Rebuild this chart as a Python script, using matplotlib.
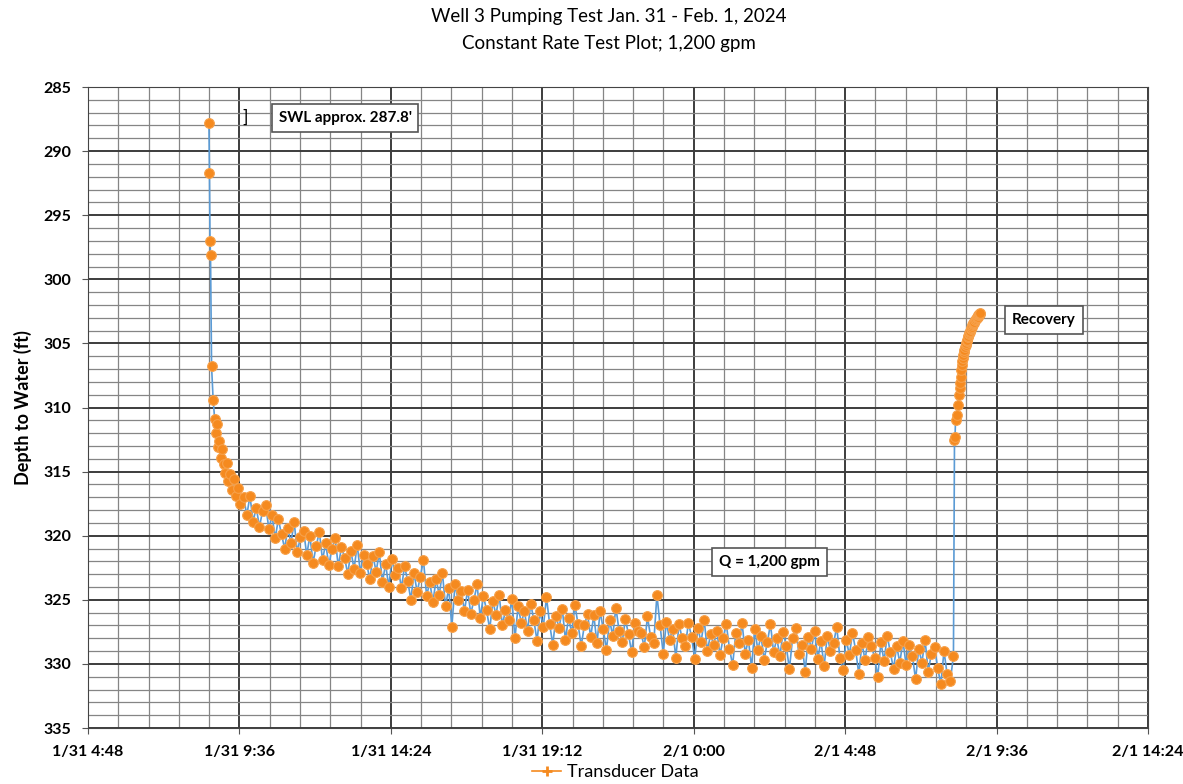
import numpy as np
import matplotlib.pyplot as plt
import matplotlib.dates as mdates
from matplotlib.ticker import MultipleLocator, FuncFormatter
from matplotlib.lines import Line2D
from datetime import datetime, timedelta

plt.rcParams['font.family'] = ['Lato', 'DejaVu Sans']

# pump start on 1/31, early readings (minutes after start)
pump_start = datetime(2024, 1, 31, 8, 38)
early_min = [0, 1, 2, 3, 5, 8, 11, 13, 15, 17, 19, 22, 25, 28, 31, 34, 37, 40, 44, 48, 52, 56, 60]
early_depth = [287.8, 291.7, 297.0, 298.1, 306.8, 309.4, 310.9, 312.0, 311.3, 313.1, 312.6, 313.9,
               313.2, 314.4, 315.1, 314.3, 315.7, 315.2, 316.4, 315.6, 316.9, 316.3, 317.5]

# later readings every 6 minutes, starting 66 min after start
log_step = 6
log_first = 66
pump_depth = [
    317.0, 318.4, 316.9, 318.9, 317.8, 319.3, 318.1, 317.6, 319.5, 318.4,
    320.2, 318.7, 319.9, 321.0, 319.4, 320.6, 318.9, 321.3, 320.1, 319.6,
    321.5, 320.0, 322.1, 320.8, 319.7, 321.9, 320.6, 322.3, 321.0, 320.2,
    322.4, 320.9, 321.7, 323.0, 321.2, 322.6, 320.7, 322.9, 321.5, 322.2,
    323.4, 321.6, 322.8, 321.3, 323.6, 322.2, 324.0, 321.8, 323.1, 322.5,
    324.1, 322.4, 323.5, 325.0, 322.9, 324.4, 323.2, 321.9, 324.7, 323.6,
    325.2, 323.4, 324.6, 322.9, 325.5, 324.1, 327.1, 323.8, 325.0, 324.3,
    325.9, 324.2, 326.1, 325.0, 323.8, 326.4, 324.7, 325.8, 327.3, 325.1,
    326.2, 324.6, 327.0, 325.8, 326.6, 324.9, 328.0, 325.5, 326.8, 325.9,
    327.4, 325.3, 326.6, 328.2, 325.9, 327.1, 324.8, 326.9, 328.5, 326.3,
    327.2, 325.7, 328.1, 326.4, 327.6, 325.4, 326.9, 328.6, 327.0, 326.1,
    327.9, 326.2, 328.4, 325.9, 327.3, 328.9, 326.6, 327.8, 325.6, 327.4,
    328.3, 326.5, 327.7, 329.1, 326.8, 327.4, 327.6, 328.7, 326.3, 327.9,
    328.4, 324.6, 327.0, 329.2, 326.7, 328.1, 327.3, 329.5, 326.9, 328.0,
    328.6, 326.8, 327.9, 329.6, 327.2, 328.3, 326.6, 329.0, 327.7, 328.5,
    327.4, 329.3, 328.0, 326.9, 328.8, 330.1, 327.6, 328.4, 326.8, 329.2,
    328.1, 330.3, 327.3, 328.9, 327.8, 329.7, 328.3, 326.9, 329.1, 328.0,
    329.4, 327.5, 328.6, 330.4, 328.0, 327.2, 329.2, 328.5, 330.6, 327.9,
    328.8, 327.4, 329.6, 328.2, 330.2, 327.8, 329.0, 328.4, 327.1, 329.5,
    330.5, 328.1, 329.3, 327.6, 328.9, 330.8, 328.4, 329.7, 327.9, 328.6,
    329.5, 331.0, 328.3, 329.8, 327.8, 329.1, 330.4, 328.6, 329.9, 328.2,
    330.1, 328.5, 329.4, 331.2, 328.8, 329.9, 328.1, 330.6, 329.2, 328.7,
    330.3, 331.6, 329.0, 330.8, 331.3, 329.4,
]

# recovery after pump off on 2/1
rec_start = datetime(2024, 2, 1, 8, 16)
rec_min = [0, 1, 2, 4, 6, 8, 10, 11, 12, 13, 14, 15, 16, 17, 18, 19, 20, 21, 22, 23, 24, 25,
           26, 27, 28, 29, 30, 31, 32, 33, 34, 35, 36, 37, 38, 39, 40, 41, 42, 43, 44, 45,
           46, 47, 48, 49]
rec_depth = [312.5, 312.3, 311.0, 310.6, 309.8, 309.0, 308.5, 308.1, 307.6, 307.1, 306.7, 306.4,
             306.1, 305.9, 305.7, 305.5, 305.3, 305.1, 305.0, 304.8, 304.7, 304.5, 304.4, 304.3,
             304.2, 304.1, 304.0, 303.9, 303.8, 303.7, 303.6, 303.5, 303.4, 303.4, 303.3, 303.2,
             303.1, 303.1, 303.0, 302.9, 302.9, 302.8, 302.8, 302.7, 302.7, 302.6]

title = "Well 3 Pumping Test Jan. 31 - Feb. 1, 2024\nConstant Rate Test Plot; 1,200 gpm"

# build the time series
t_pump = [pump_start + timedelta(minutes=m) for m in early_min]
t_pump += [pump_start + timedelta(minutes=log_first + log_step * i) for i in range(len(pump_depth))]
t_rec = [rec_start + timedelta(minutes=m) for m in rec_min]
times = mdates.date2num(t_pump + t_rec)
depth = np.array(early_depth + pump_depth + rec_depth)

x_lo = mdates.date2num(datetime(2024, 1, 31, 4, 48))
x_hi = mdates.date2num(datetime(2024, 2, 1, 14, 24))

fig = plt.figure(figsize=(11.83, 7.84), dpi=100)
ax = fig.add_axes([0.0744, 0.0714, 0.896, 0.8176])

orange = '#F58A1F'
blue = '#5B9BD5'
ax.plot(times, depth, '-', color=blue, lw=1.2, marker='o', ms=7,
        mfc=orange, mec='#F7A14A', mew=0.8, zorder=3)

ax.set_xlim(x_lo, x_hi)
ax.set_ylim(335, 285)
ax.xaxis.set_major_locator(MultipleLocator(0.2))
ax.xaxis.set_minor_locator(MultipleLocator(0.04))
ax.yaxis.set_major_locator(MultipleLocator(5))
ax.yaxis.set_minor_locator(MultipleLocator(1))


def fmt_date(v, pos):
    d = mdates.num2date(v + 1e-6)
    return "%d/%d %d:%02d" % (d.month, d.day, d.hour, d.minute)


ax.xaxis.set_major_formatter(FuncFormatter(fmt_date))
ax.grid(which='major', color='#3c3c3c', lw=1.4)
ax.grid(which='minor', color='#858585', lw=0.9)
ax.set_axisbelow(True)
for s in ax.spines.values():
    s.set_color('#444444')
ax.tick_params(axis='both', which='major', labelsize=11.5, length=4, color='#555555', pad=8)
ax.tick_params(axis='both', which='minor', length=0)
for lab in ax.get_xticklabels() + ax.get_yticklabels():
    lab.set_fontweight('bold')

ax.set_ylabel("Depth to Water (ft)", fontsize=13, fontweight='bold', labelpad=8)
fig.suptitle(title, fontsize=13.5, y=0.99, x=0.515, linespacing=1.75)

box = dict(boxstyle='square,pad=0.45', fc='white', ec='#555555', lw=1.2)
ax.text(0.2425, 0.952, "SWL approx. 287.8'", transform=ax.transAxes, ha='center', va='center',
        fontsize=11, fontweight='bold', bbox=box, zorder=5)
ax.text(0.148, 0.952, "]", transform=ax.transAxes, ha='center', va='center', fontsize=13, zorder=5)
ax.text(0.902, 0.6365, "Recovery", transform=ax.transAxes, ha='center', va='center',
        fontsize=11, fontweight='bold', bbox=box, zorder=5)
ax.text(0.643, 0.259, "Q = 1,200 gpm", transform=ax.transAxes, ha='center', va='center',
        fontsize=11, fontweight='bold', bbox=box, zorder=5)

handle = Line2D([], [], color=orange, lw=1.2, marker='+', ms=7, mew=2)
fig.legend([handle], ["Transducer Data"], loc='lower center', bbox_to_anchor=(0.52, -0.016),
           frameon=False, fontsize=13, handlelength=1.6, handletextpad=0.3)

fig.savefig("out.png", dpi=100)
